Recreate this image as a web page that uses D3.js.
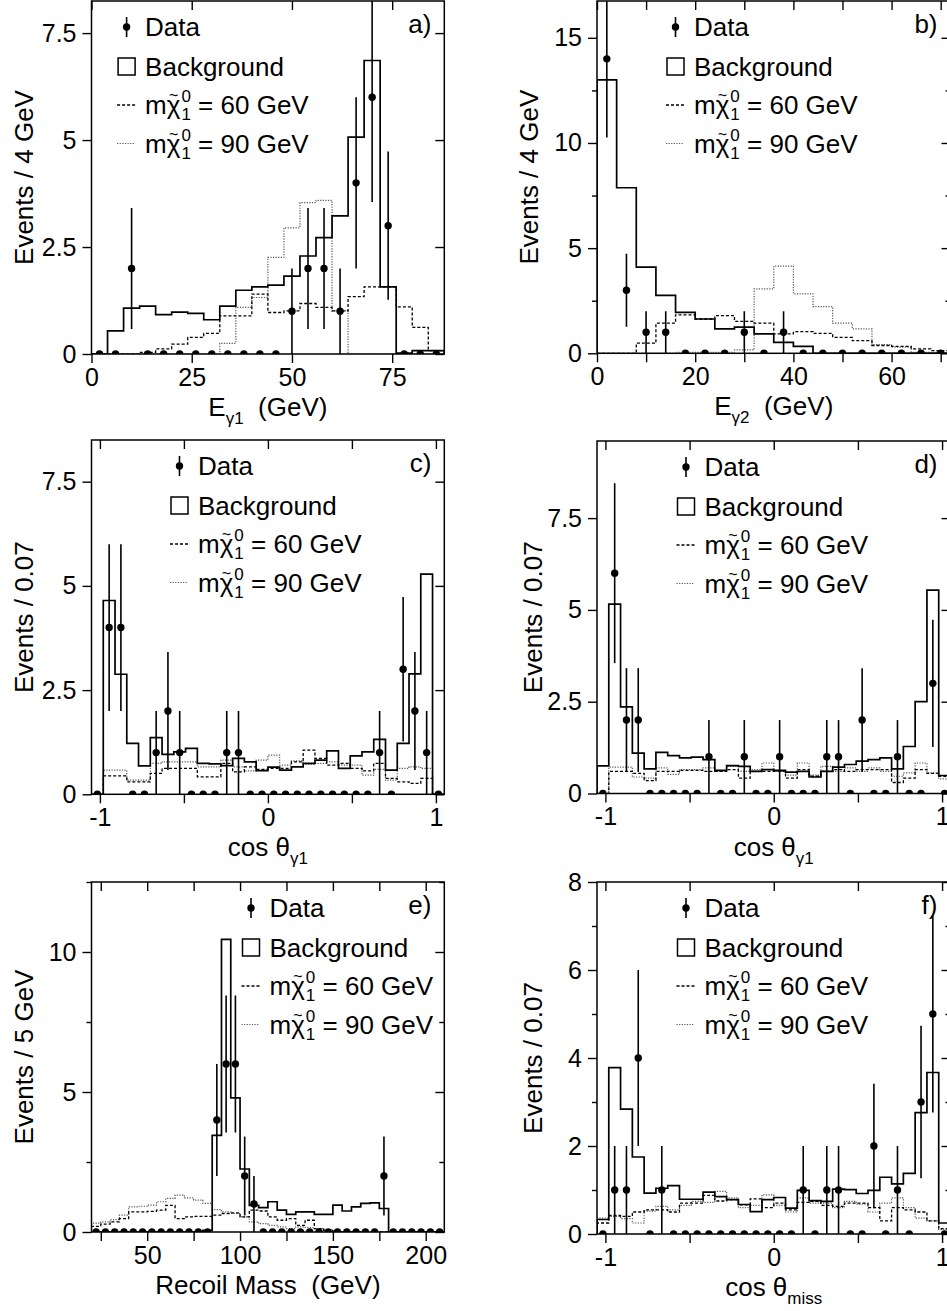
<!DOCTYPE html>
<html><head><meta charset="utf-8">
<script src="https://cdn.jsdelivr.net/npm/d3@7"></script>
<style>body{margin:0;background:#fff} svg{display:block}</style>
</head><body>
<svg id="chart" width="947" height="1311"></svg>
<script>
// ---------------- DATA ----------------
// a) E_gamma1, 4 GeV bins from 0 to 88
const eg1Data  = [0,0,2,0,0,0,0,0,0,0,0,0,1,2,2,1,4,6,3,0,0,0];
const eg1Bkg   = [0,0.54,1.07,1.12,0.92,0.98,0.95,0.80,1.12,1.49,1.57,1.61,1.82,2.29,2.72,3.23,5.07,6.86,1.57,0.02,0.08,0.08];
const eg1Sig60 = [0,0,0,0.04,0.12,0.23,0.39,0.48,0.89,0.89,1.40,0.97,1.01,1.18,1.09,1.01,1.34,1.57,1.57,1.10,0.62,0.08];
const eg1Sig90 = [0,0,0,0,0,0,0,0,0.25,1.09,1.32,2.26,2.95,3.54,3.59,1.01,0,0,0,0,0,0];
// b) E_gamma2, 4 GeV bins from 0 to 72
const eg2Data  = [14,3,1,1,0,0,0,1,0,1,0,0,0,0,0,0,0,0];
const eg2Bkg   = [13.0,7.87,4.10,2.75,1.95,1.63,1.16,1.24,0.92,0.52,0.33,0,0,0,0,0,0,0];
const eg2Sig60 = [0,0,0.48,1.43,1.83,1.63,1.79,1.52,1.43,0.92,1.03,0.95,0.76,0.60,0.37,0.33,0.21,0.13];
const eg2Sig90 = [0,0,0,0,0.05,0.05,0.05,0.16,3.06,4.14,2.83,2.22,1.43,1.16,0.41,0.29,0.05,0.05];
// c) cos theta_gamma1, 0.07 bins from -1.05 to 1.05
const cosCData  = [0,4,4,0,0,1,2,1,0,0,0,1,1,0,0,0,0,0,0,0,0,0,0,0,1,0,3,2,1,0];
const cosCBkg   = [0,4.65,2.88,1.22,0.68,1.36,0.96,1.02,1.10,0.74,0.73,0.69,0.86,0.78,0.57,0.65,0.58,0.66,0.74,0.82,1.04,0.62,0.92,1.02,1.32,0.58,1.22,2.89,5.28,0];
const cosCSig60 = [0,0.44,0.44,0.30,0.30,0.50,0.62,0.62,0.62,0.42,0.42,0.74,0.54,0.66,0.60,0.62,0.62,0.78,1.06,0.86,0.70,0.74,0.62,0.56,0.74,0.38,0.30,0.26,0.38,0];
const cosCSig90 = [0,0.58,0.58,0.34,0.34,0.74,0.78,0.78,0.78,0.66,0.66,0.82,0.66,0.56,0.82,0.94,0.70,0.80,0.72,0.74,0.78,0.70,0.70,0.46,0.60,0.34,0.62,0.66,0.62,0];
// d) cos theta_gamma1 (second selection)
const cosDData  = [0,6,2,2,0,0,0,0,0,1,0,0,1,0,0,1,0,0,0,1,1,0,2,0,0,1,0,0,3,0];
const cosDBkg   = [0.75,5.16,2.36,1.10,0.67,1.12,1.03,0.97,0.99,0.92,0.63,0.76,0.74,0.60,0.65,0.63,0.58,0.60,0.45,0.60,0.72,0.79,0.88,0.92,0.97,0.67,1.28,2.50,5.54,0.49];
const cosDSig60 = [0,0.60,0.60,0.55,0.35,0.60,0.60,0.63,0.63,0.60,0.60,0.65,0.42,0.60,0.60,0.60,0.42,0.65,0.47,0.60,0.65,0.60,0.65,0.65,0.65,0.30,0.42,0.65,0.55,0.47];
const cosDSig90 = [0,0.72,0.72,0.45,0.42,0.70,0.52,0.65,0.65,0.70,0.60,0.74,0.60,0.65,0.83,0.60,0.50,0.83,0.50,0.74,0.60,0.70,0.60,0.70,0.60,0.47,0.56,0.83,0.56,0.40];
// e) Recoil mass, 5 GeV bins from 20 to 210
const recData  = [0,0,0,0,0,0,0,0,0,0,0,0,0,4,6,6,2,1,0,0,0,0,0,0,0,0,0,0,0,0,0,2,0,0,0,0,0,0];
const recBkg   = [0,0,0,0,0,0,0,0,0,0,0,0,0.06,3.45,10.45,4.79,2.25,0.95,0.87,1.08,0.78,0.63,0.72,0.72,0.63,0.63,0.96,0.75,0.90,1.02,1.04,0.84,0,0,0,0,0,0];
const recSig60 = [0.20,0.28,0.36,0.48,0.72,0.72,0.74,0.78,0.95,0.48,0.54,0.56,0.56,0.60,0.66,0.68,0.54,0.78,0.75,0.54,0.42,0.48,0.24,0.42,0.12,0.06,0,0,0,0,0,0,0,0,0,0,0,0];
const recSig90 = [0.32,0.36,0.44,0.60,0.90,0.92,0.96,1.08,1.20,1.32,1.22,1.14,1.02,0.80,0.72,0.66,0.54,0.36,0.30,0.24,0.18,0.12,0.18,0.16,0.12,0.08,0,0,0,0,0,0,0,0,0,0,0,0];
// f) cos theta_miss
const missData  = [0,1,1,4,0,1,0,0,0,0,0,0,0,0,0,0,0,1,0,1,1,0,0,2,0,1,0,3,5,0];
const missBkg   = [0.33,3.78,2.84,1.75,0.93,1.04,1.10,0.79,0.79,0.95,0.85,0.78,0.67,0.51,0.78,0.83,0.59,0.99,0.76,0.74,1.02,1.01,0.92,0.99,1.29,1.14,1.38,2.76,3.67,0.25];
const missSig60 = [0.25,0.42,0.40,0.50,0.55,0.55,0.50,0.70,0.70,0.88,0.75,0.78,0.66,0.80,0.60,0.70,0.55,0.72,0.74,0.65,0.63,0.70,0.70,0.60,0.30,0.60,0.55,0.50,0.30,0.12];
const missSig90 = [0.36,0.40,0.35,0.25,0.52,0.63,0.55,0.65,0.74,0.72,0.97,0.82,0.60,0.65,0.89,0.65,0.50,0.82,0.70,0.70,0.60,0.74,0.68,0.50,0.70,0.82,0.60,0.36,0.30,0.10];

// tick values
const eg1XTicks = [0,25,50,75];
const eg2XTicks = [0,20,40,60], eg2XMinor = [10,30,50,70];
const cosXTicks = [-1,0,1], cosXMinor = [-0.5,0.5];
const recXTicks = [50,100,150,200], recXMinor = [25,75,125,175];
const yTicks25 = [0,2.5,5,7.5];
const eg2YTicks = [0,5,10,15], eg2YMinor = [2.5,7.5,12.5];
const recYTicks = [0,5,10], recYMinor = [2.5,7.5,12.5];
const missYTicks = [0,2,4,6,8], missYMinor = [1,3,5,7];
const legendLabels = ["Data","Background","60","90"];

// ---------------- DRAW ----------------
const FONT = "'Liberation Sans', Arial, Helvetica, sans-serif";
const svg = d3.select('#chart');
const LEFT = [91.5, 444.3], RIGHT = [597, 950.5];

const panels = [
 {id:'a', X:LEFT,  T:1,   B:354,   xDom:[0,88],       yDom:[0,8.25], binW:4,    data:eg1Data, bkg:eg1Bkg, s60:eg1Sig60, s90:eg1Sig90,
  xT:eg1XTicks, xM:[], yT:yTicks25, yM:[], ytitle:'Events / 4 GeV', xtitle:['E','γ1','  (GeV)'], leg:25.6, yt:-59},
 {id:'b', X:RIGHT, T:1,   B:353.3, xDom:[0,72],       yDom:[0,16.75], binW:4,   data:eg2Data, bkg:eg2Bkg, s60:eg2Sig60, s90:eg2Sig90,
  xT:eg2XTicks, xM:eg2XMinor, yT:eg2YTicks, yM:eg2YMinor, ytitle:'Events / 4 GeV', xtitle:['E','γ2','  (GeV)'], leg:69, yt:-59},
 {id:'c', X:LEFT,  T:440, B:794.3, xDom:[-1.05,1.05], yDom:[0,8.5], binW:0.07,  data:cosCData, bkg:cosCBkg, s60:cosCSig60, s90:cosCSig90,
  xT:cosXTicks, xM:cosXMinor, yT:yTicks25, yM:[], ytitle:'Events / 0.07', xtitle:['cos θ','γ1',''], leg:78.5, yt:-59},
 {id:'d', X:RIGHT, T:441, B:793.5, xDom:[-1.05,1.05], yDom:[0,9.6], binW:0.07,  data:cosDData, bkg:cosDBkg, s60:cosDSig60, s90:cosDSig90,
  xT:cosXTicks, xM:cosXMinor, yT:yTicks25, yM:[], ytitle:'Events / 0.07', xtitle:['cos θ','γ1',''], leg:79.5, yt:-55},
 {id:'e', X:LEFT,  T:882, B:1232,  xDom:[20,210],     yDom:[0,12.5], binW:5,    data:recData, bkg:recBkg, s60:recSig60, s90:recSig90,
  xT:recXTicks, xM:recXMinor, yT:recYTicks, yM:recYMinor, ytitle:'Events / 5 GeV', xtitle:['Recoil Mass  (GeV)','',''], leg:150, yt:-59},
 {id:'f', X:RIGHT, T:882, B:1234,  xDom:[-1.05,1.05], yDom:[0,8], binW:0.07,    data:missData, bkg:missBkg, s60:missSig60, s90:missSig90,
  xT:cosXTicks, xM:cosXMinor, yT:missYTicks, yM:missYMinor, ytitle:'Events / 0.07', xtitle:['cos θ','miss',''], leg:79.5, yt:-55},
];

function styleAxis(s){
  s.select('.domain').remove();
  s.attr('font-size',25).attr('font-family',FONT);
  s.selectAll('line').attr('stroke','#000').attr('stroke-width',1.4);
  s.selectAll('text').attr('fill','#000');
  s.selectAll('text').filter(function(){ return !this.textContent; }).remove();
}

function drawPanel(p){
  const [L,R] = p.X, T=p.T, B=p.B;
  const x = d3.scaleLinear().domain(p.xDom).range([L,R]);
  const y = d3.scaleLinear().domain(p.yDom).range([B,T]);
  const g = svg.append('g');
  svg.append('clipPath').attr('id','clip'+p.id).append('rect')
     .attr('x',L).attr('y',T).attr('width',R-L).attr('height',B-T);
  const plot = g.append('g').attr('clip-path',`url(#clip${p.id})`);

  const n = p.bkg.length;
  const edge = i => p.xDom[0] + i*p.binW;
  const line = d3.line().x(d=>x(d[0])).y(d=>y(d[1])).curve(d3.curveStepAfter);
  const pts = vals => {
    const a = [[edge(0),0]];
    vals.forEach((v,i)=>a.push([edge(i),v]));
    a.push([edge(n),vals[n-1]]); a.push([edge(n),0]);
    return a;
  };
  plot.append('path').attr('d',line(pts(p.s90))).attr('fill','none')
      .attr('stroke','#555').attr('stroke-width',1.2).attr('stroke-dasharray','1.2,1.4');
  plot.append('path').attr('d',line(pts(p.s60))).attr('fill','none')
      .attr('stroke','#000').attr('stroke-width',1.3).attr('stroke-dasharray','3,2');
  plot.append('path').attr('d',line(pts(p.bkg))).attr('fill','none')
      .attr('stroke','#000').attr('stroke-width',1.7);

  p.data.forEach((v,i)=>{
    const cx = x(edge(i)+p.binW/2);
    if(v>0){
      const e=Math.sqrt(v);
      plot.append('line').attr('x1',cx).attr('x2',cx).attr('y1',y(v-e)).attr('y2',y(v+e))
          .attr('stroke','#000').attr('stroke-width',1.6);
    }
    plot.append('circle').attr('cx',cx).attr('cy',y(v)).attr('r',3.7).attr('fill','#000');
  });

  // frame
  g.append('rect').attr('x',L).attr('y',T).attr('width',R-L).attr('height',B-T)
   .attr('fill','none').attr('stroke','#000').attr('stroke-width',1.5);

  // axes
  g.append('g').attr('transform',`translate(0,${B})`)
   .call(d3.axisBottom(x).tickValues(p.xT).tickSize(9).tickPadding(5).tickFormat(d=>String(d))).call(styleAxis);
  if(p.xM.length) g.append('g').attr('transform',`translate(0,${B})`)
   .call(d3.axisBottom(x).tickValues(p.xM).tickSize(9).tickFormat('')).call(styleAxis);
  g.append('g').attr('transform',`translate(0,${T})`)
   .call(d3.axisTop(x).tickValues(p.xT.concat(p.xM)).tickSize(-9).tickFormat('')).call(styleAxis);
  g.append('g').attr('transform',`translate(${L},0)`)
   .call(d3.axisLeft(y).tickValues(p.yT).tickSize(9).tickPadding(6).tickFormat(d=>String(d))).call(styleAxis);
  if(p.yM.length){
    g.append('g').attr('transform',`translate(${L},0)`)
     .call(d3.axisLeft(y).tickValues(p.yM).tickSize(5).tickFormat('')).call(styleAxis);
    g.append('g').attr('transform',`translate(${R},0)`)
     .call(d3.axisRight(y).tickValues(p.yM).tickSize(-5).tickFormat('')).call(styleAxis);
  }
  g.append('g').attr('transform',`translate(${R},0)`)
   .call(d3.axisRight(y).tickValues(p.yT).tickSize(-9).tickFormat('')).call(styleAxis);

  // y title
  g.append('text').attr('transform',`translate(${L+p.yt},${(T+B)/2}) rotate(-90)`)
   .attr('text-anchor','middle').attr('font-family',FONT).attr('font-size',26).text(p.ytitle);
  // x title
  const xt = g.append('text').attr('x',(L+R)/2).attr('y',B+62).attr('text-anchor','middle')
   .attr('font-family',FONT).attr('font-size',26).style('white-space','pre');
  xt.append('tspan').text(p.xtitle[0]);
  if(p.xtitle[1]){
    xt.append('tspan').attr('dy',8).attr('font-size',17).text(p.xtitle[1]);
    if(p.xtitle[2]) xt.append('tspan').attr('dy',-8).text(p.xtitle[2]);
  }

  // panel label
  g.append('text').attr('x',R-13).attr('y',T+32).attr('text-anchor','end')
   .attr('font-family',FONT).attr('font-size',26).text(p.id+')');

  // legend
  const bx = L + p.leg, tx = bx + 28;
  const rows = [T+26, T+65.5, T+104, T+142.5];
  const lg = g.append('g');
  lg.append('line').attr('x1',bx+9.5).attr('x2',bx+9.5).attr('y1',rows[0]-10).attr('y2',rows[0]+10)
    .attr('stroke','#000').attr('stroke-width',1.6);
  lg.append('circle').attr('cx',bx+9.5).attr('cy',rows[0]).attr('r',3.7);
  lg.append('rect').attr('x',bx+1).attr('y',rows[1]-8.5).attr('width',17).attr('height',17)
    .attr('fill','none').attr('stroke','#000').attr('stroke-width',1.5);
  lg.append('line').attr('x1',bx).attr('x2',bx+18).attr('y1',rows[2]).attr('y2',rows[2])
    .attr('stroke','#000').attr('stroke-width',1.3).attr('stroke-dasharray','3,2');
  lg.append('line').attr('x1',bx).attr('x2',bx+18).attr('y1',rows[3]).attr('y2',rows[3])
    .attr('stroke','#555').attr('stroke-width',1.2).attr('stroke-dasharray','1.2,1.4');
  const txt = (xx,yy,s,fs) => lg.append('text').attr('x',xx).attr('y',yy).attr('font-family',FONT)
      .attr('font-size',fs||26).text(s);
  txt(tx,rows[0]+9,legendLabels[0]);
  txt(tx,rows[1]+9,legendLabels[1]);
  [2,3].forEach(r=>{
    const by = rows[r]+9;
    const tm = txt(tx,by,'m'); const wm = tm.node().getComputedTextLength();
    const tc = txt(tx+wm,by,'χ'); const wc = tc.node().getComputedTextLength();
    txt(tx+wm+wc/2,by-13,'~',16).attr('text-anchor','middle');
    const sx = tx+wm+wc+1;
    const t0 = txt(sx,by-12,'0',17); txt(sx,by+6,'1',17);
    const ws = t0.node().getComputedTextLength();
    txt(sx+ws,by,' = '+legendLabels[r]+' GeV').style('white-space','pre');
  });
}
panels.forEach(drawPanel);
</script>
</body></html>
